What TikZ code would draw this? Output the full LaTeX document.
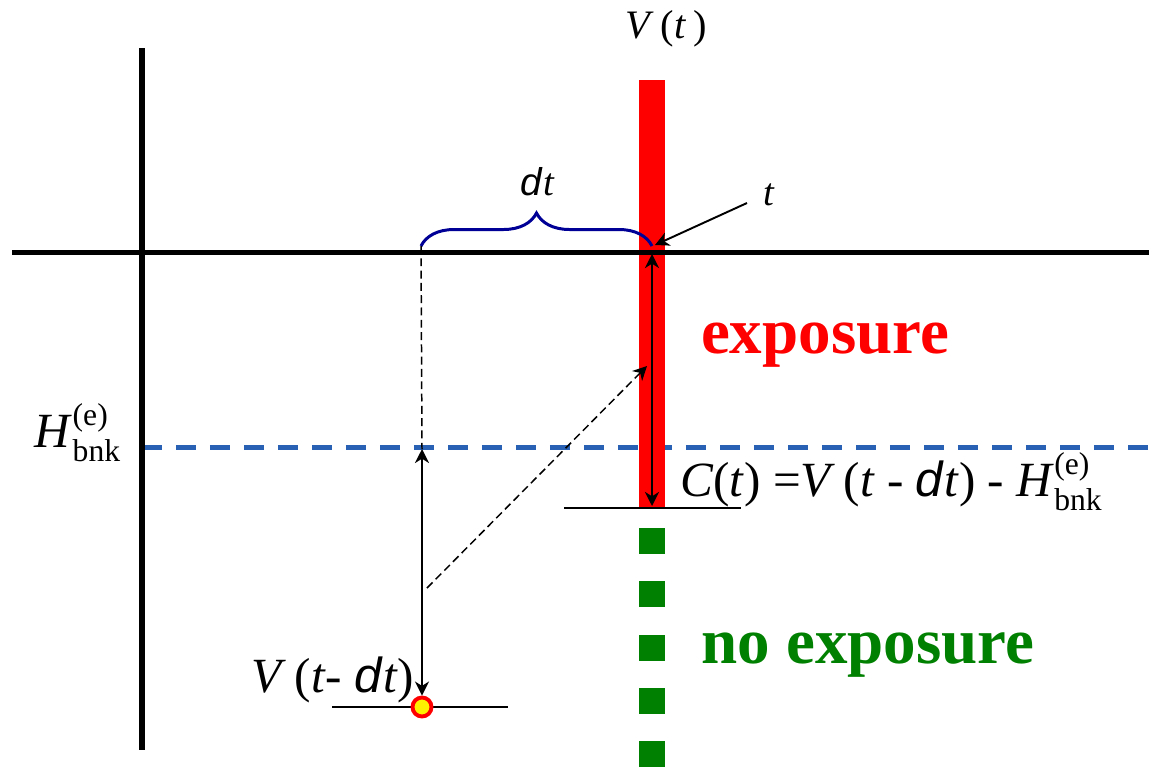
\documentclass[tikz,border=0pt]{standalone}
\usepackage{amsmath}
\usepackage{fontspec}
\setmainfont{Liberation Serif}
\setsansfont{Liberation Sans}
\usetikzlibrary{arrows.meta,decorations.pathreplacing}
\definecolor{hblue}{RGB}{41,98,181}
\definecolor{bracecol}{RGB}{0,0,150}
\definecolor{noexpcol}{RGB}{0,128,0}
\newcommand{\vi}[1]{\textit{#1}}
\newcommand{\dd}{\textsf{\textit{d}}}
\newcommand{\scr}[1]{\text{\fontsize{18}{18}\selectfont #1}}
\newcommand{\hbnk}{\vi{H}$^{\scr{(e)}}_{\scr{bnk}}$}

\begin{document}
\begin{tikzpicture}[>={Stealth[length=8pt,width=8pt,inset=2.5pt]}, x=0.02cm, y=-0.02cm,
	font=\fontsize{28}{30}\selectfont,
	axis/.style={line width=2.85pt},
	thin line/.style={line width=0.85pt},
	short dash/.style={dash pattern=on 4.5pt off 2.5pt},
	big label/.style={font=\bfseries\fontsize{37}{40}\selectfont}]
	\useasboundingbox (0,0) rectangle (1149,768);
	% the H line
	\draw[hblue, line width=2.85pt, dash pattern=on 0.4cm off 0.28cm] (142,447) -- (1149,447);
	% exposure bar and dotted no exposure part
	\fill[red] (639,80) rectangle (665,508);
	\foreach \y in {528,581,635,688,741}{
		\fill[noexpcol] (639,\y) rectangle (665,\y+26);
	}
	\draw[axis] (12,252) -- (1149,252);
	\draw[axis] (142,48) -- (142,750);
	\draw[thin line] (564,508) -- (741,508);
	\draw[thin line] (332,707) -- (508,707);
	% points
	\coordinate (bl) at (421,246);
	\coordinate (br) at (652,246);
	\coordinate (hv) at (422,449);
	\coordinate (ctop) at (652,254);
	\coordinate (cbot) at (652,506);
	\coordinate (dstart) at (427,588);
	\coordinate (dend) at (647,366);
	\coordinate (tp) at (747,203);
	\coordinate (tend) at (655,245);
	\node[circle, draw=red, fill=yellow, line width=2.2pt, minimum size=0.38cm, inner sep=0pt] (dot) at (422,707) {};
	% labels
	\node[font=\fontsize{23}{25}\selectfont] (vt) at (666,29) {\vi{V}\,(\vi{t}\,)};
	\node[font=\fontsize{22}{24}\selectfont] (dtl) at (538,182) {\dd\vi{t}};
	\node[font=\fontsize{22}{24}\selectfont] (tl) at (769,195) {\vi{t}};
	\node[big label, text=red] (exp) at (825,345) {exposure};
	\node[big label, text=noexpcol] (noexp) at (868,655) {no exposure};
	\node[anchor=west] (ct) at (674,482) {\vi{C}(\vi{t}) =\vi{V}\,(\vi{t} - \dd\vi{t}) - \hbnk};
	\node (hl) at (78,433) {\hbnk};
	\node (vdt) at (333,680) {\vi{V}\,(\vi{t}- \dd\vi{t})};
	% connectors
	\draw[bracecol, line width=1.7pt, decorate, decoration={brace, amplitude=0.66cm}] (bl) -- (br);
	\draw[thin line, short dash] (bl) -- (hv);
	\draw[<->, line width=1.1pt] (hv) -- (dot);
	\draw[<->, line width=1.4pt] (ctop) -- (cbot);
	\draw[->, thin line, short dash] (dstart) -- (dend);
	\draw[->, line width=1.1pt] (tp) -- (tend);
\end{tikzpicture}
\end{document}
